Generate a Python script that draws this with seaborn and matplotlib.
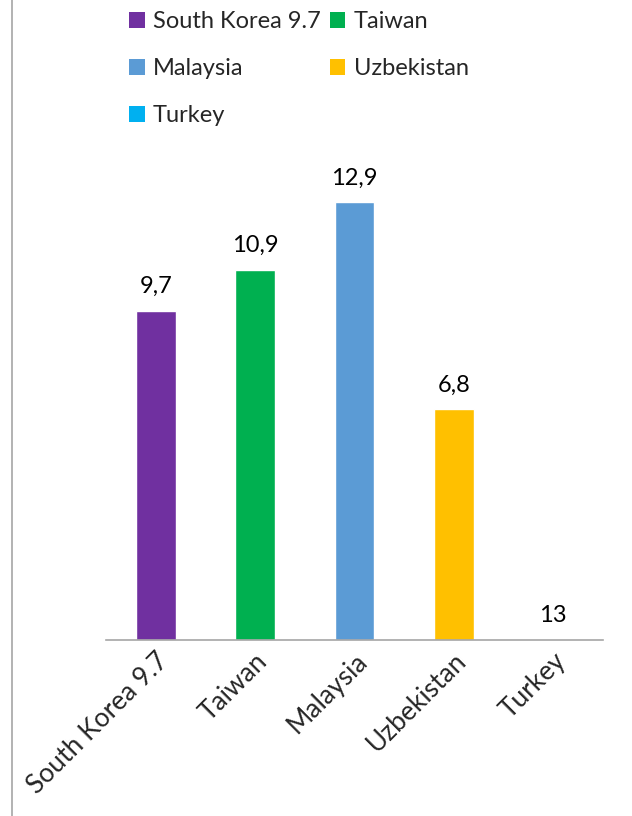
import matplotlib
matplotlib.use('Agg')
import matplotlib.pyplot as plt
import seaborn as sns
from matplotlib.patches import Patch
from matplotlib.lines import Line2D

countries = ['South Korea 9.7', 'Taiwan', 'Malaysia', 'Uzbekistan', 'Turkey']
values = [9.7, 10.9, 12.9, 6.8, 0.0]
value_labels = ['9,7', '10,9', '12,9', '6,8', '13']
colors = ['#7030A0', '#00B050', '#5B9BD5', '#FFC000', '#00B0F0']

sns.set_style('white')
plt.rcParams['font.family'] = ['Lato', 'DejaVu Sans']

fig = plt.figure(figsize=(6.32, 8.16), dpi=100)
ax = fig.add_axes([106 / 632, 1 - 640 / 816, 497 / 632, 475 / 816])

sns.barplot(x=countries, y=values, hue=countries, palette=colors,
            width=0.4, legend=False, ax=ax, saturation=1)

for i, (v, lab) in enumerate(zip(values, value_labels)):
    ax.annotate(lab, (i, v), xytext=(0, 10), textcoords='offset points',
                ha='center', va='bottom', fontsize=17, color='black')

ax.set_ylim(0, 14)
ax.set_xlim(-0.5, 4.5)
ax.set_yticks([])
ax.set_xlabel('')
ax.set_ylabel('')
for s in ['top', 'right', 'left']:
    ax.spines[s].set_visible(False)
ax.spines['bottom'].set_color('#A6A6A6')
ax.spines['bottom'].set_linewidth(1.2)
ax.tick_params(axis='x', length=0, pad=6, labelsize=19)
plt.setp(ax.get_xticklabels(), rotation=45, ha='right', rotation_mode='anchor')

# legend laid out row by row like the original
order = [0, 2, 4, 1, 3]
handles = [Patch(facecolor=colors[i], edgecolor='none') for i in order]
labels = [countries[i] for i in order]
fig.legend(handles, labels, loc='upper left', bbox_to_anchor=(108 / 632, 1.012),
           ncol=2, frameon=False, fontsize=17, handlelength=0.65,
           handleheight=0.65, handletextpad=0.35, columnspacing=0.4,
           labelspacing=1.1)

# chart border on the left
fig.add_artist(Line2D([12 / 632, 12 / 632], [0, 1], color='#A6A6A6', lw=1.2))

fig.savefig('out.png', dpi=100)
